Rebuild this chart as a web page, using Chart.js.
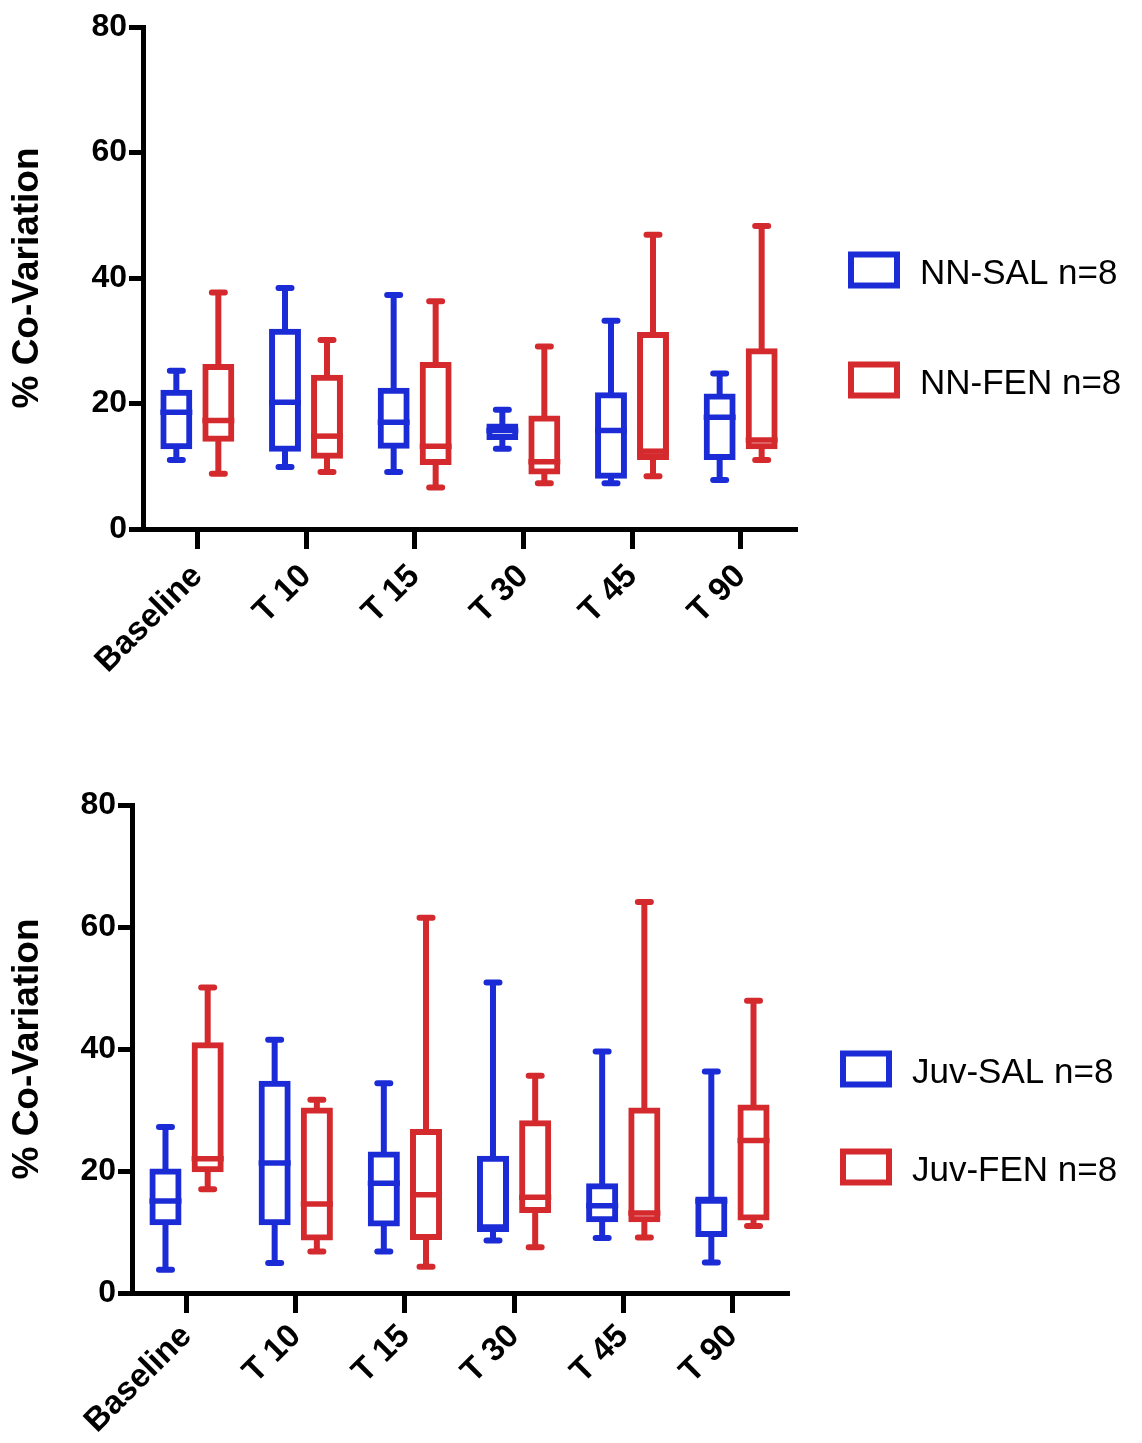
<!DOCTYPE html>
<html>
<head>
<meta charset="utf-8">
<script src="https://cdn.jsdelivr.net/npm/chart.js@4.4.1/dist/chart.umd.min.js"></script>
<style>
  html, body { margin: 0; padding: 0; background: #fff; }
  #wrap { position: relative; width: 1142px; height: 1443px; }
  canvas { position: absolute; left: 0; }
  #topChart { top: 0; }
  #bottomChart { top: 730px; }
</style>
</head>
<body>
<div id="wrap">
  <canvas id="topChart" width="1142" height="730"></canvas>
  <canvas id="bottomChart" width="1142" height="713"></canvas>
</div>
<script>
const categories = ["Baseline", "T 10", "T 15", "T 30", "T 45", "T 90"];
const yTicks = [0, 20, 40, 60, 80];

// top panel: neonatal groups
const nnSalMin = [11.0, 9.9, 9.1, 12.8, 7.3, 7.8];
const nnSalQ1 = [12.7, 12.3, 12.8, 14.2, 8.0, 11.0];
const nnSalMed = [18.6, 20.2, 17.0, 15.7, 15.7, 17.8];
const nnSalQ3 = [22.2, 31.9, 22.5, 16.8, 21.8, 21.6];
const nnSalMax = [25.2, 38.4, 37.3, 19.0, 33.2, 24.8];

const nnFenMin = [8.8, 9.1, 6.6, 7.3, 8.4, 11.0];
const nnFenQ1 = [13.9, 11.2, 10.2, 8.7, 11.0, 12.7];
const nnFenMed = [17.3, 14.8, 13.2, 10.7, 12.4, 14.2];
const nnFenQ3 = [26.3, 24.6, 26.6, 18.1, 31.4, 28.8];
const nnFenMax = [37.7, 30.1, 36.3, 29.1, 46.9, 48.3];

// bottom panel: juvenile groups
const juvSalMin = [3.8, 4.9, 6.8, 8.6, 9.0, 5.0];
const juvSalQ1 = [11.1, 11.1, 10.9, 10.0, 11.6, 9.2];
const juvSalMed = [15.1, 21.3, 18.0, 10.8, 14.3, 15.1];
const juvSalQ3 = [20.4, 34.8, 23.2, 22.5, 18.0, 15.8];
const juvSalMax = [27.2, 41.5, 34.4, 50.9, 39.6, 36.3];

const juvFenMin = [17.0, 6.8, 4.3, 7.5, 9.1, 11.0];
const juvFenQ1 = [19.8, 8.6, 8.7, 13.1, 11.6, 11.9];
const juvFenMed = [22.0, 14.6, 16.1, 15.7, 13.1, 25.0];
const juvFenQ3 = [41.1, 30.4, 26.9, 28.3, 30.4, 30.9];
const juvFenMax = [50.1, 31.7, 61.5, 35.6, 64.1, 47.9];

const BLUE = "#1b2cd6";
const RED = "#d42a2e";
const FONT = "'Liberation Sans', Arial, Helvetica, sans-serif";

Chart.defaults.font.family = FONT;
Chart.defaults.color = "#000";

// whiskers + median lines drawn on top of the floating bars
const whiskers = {
  id: "whiskers",
  afterDatasetsDraw(chart) {
    const ctx = chart.ctx;
    const ys = chart.scales.y;
    chart.data.datasets.forEach((ds, di) => {
      const meta = chart.getDatasetMeta(di);
      const s = ds.stats;
      meta.data.forEach((bar, i) => {
        const x = bar.x;
        const half = bar.width / 2;
        const pMin = ys.getPixelForValue(s.min[i]);
        const pQ1 = ys.getPixelForValue(s.q1[i]);
        const pMed = ys.getPixelForValue(s.med[i]);
        const pQ3 = ys.getPixelForValue(s.q3[i]);
        const pMax = ys.getPixelForValue(s.max[i]);
        ctx.save();
        ctx.strokeStyle = ds.borderColor;
        ctx.lineWidth = 6;
        ctx.lineCap = "round";
        ctx.beginPath();
        ctx.moveTo(x, pQ3); ctx.lineTo(x, pMax);
        ctx.moveTo(x - 6.5, pMax); ctx.lineTo(x + 6.5, pMax);
        ctx.moveTo(x, pQ1); ctx.lineTo(x, pMin);
        ctx.moveTo(x - 6.5, pMin); ctx.lineTo(x + 6.5, pMin);
        ctx.stroke();
        ctx.lineCap = "butt";
        ctx.lineWidth = 5.5;
        ctx.beginPath();
        ctx.moveTo(x - half, pMed); ctx.lineTo(x + half, pMed);
        ctx.stroke();
        ctx.restore();
      });
    });
  }
};

// legend on the right with open boxes
const boxLegend = {
  id: "boxLegend",
  afterDraw(chart, args, opts) {
    const ctx = chart.ctx;
    const x0 = chart.chartArea.right + opts.offsetX;
    chart.data.datasets.forEach((ds, i) => {
      const cy = chart.chartArea.top + opts.rows[i];
      ctx.save();
      ctx.strokeStyle = ds.borderColor;
      ctx.lineWidth = 6;
      ctx.strokeRect(x0 + 3, cy - 15.5, 46, 31);
      ctx.fillStyle = "#000";
      ctx.font = "35px " + FONT;
      ctx.textBaseline = "middle";
      ctx.fillText(ds.label, x0 + 72, cy + 4);
      ctx.restore();
    });
  }
};

function makeDataset(label, color, mn, q1, med, q3, mx) {
  return {
    label: label,
    data: q1.map((v, i) => [v, q3[i]]),
    stats: { min: mn, q1: q1, med: med, q3: q3, max: mx },
    borderColor: color,
    backgroundColor: "rgba(255,255,255,0)",
    borderWidth: 6,
    borderSkipped: false,
    categoryPercentage: 0.773,
    barPercentage: 0.76
  };
}

function makeChart(id, datasets, yWidth, xHeight, pad, rows, labelPad) {
  return new Chart(document.getElementById(id), {
    type: "bar",
    data: { labels: categories, datasets: datasets },
    options: {
      responsive: false,
      animation: false,
      devicePixelRatio: 1,
      layout: { padding: pad },
      plugins: {
        legend: { display: false },
        tooltip: { enabled: false },
        boxLegend: { offsetX: 53, rows: rows }
      },
      scales: {
        x: {
          offset: true,
          grid: { drawOnChartArea: false, offset: false, tickLength: 20, color: "#000", lineWidth: 5 },
          border: { color: "#000", width: 5 },
          ticks: {
            color: "#000",
            font: { size: 33, weight: "bold" },
            minRotation: 45,
            maxRotation: 45,
            padding: labelPad
          },
          afterFit(scale) { scale.height = xHeight; }
        },
        y: {
          min: 0,
          max: 80,
          afterBuildTicks(scale) { scale.ticks = yTicks.map(v => ({ value: v })); },
          grid: { drawOnChartArea: false, tickLength: 14, color: "#000", lineWidth: 5 },
          border: { color: "#000", width: 5 },
          ticks: { color: "#000", font: { size: 32, weight: "bold" }, padding: 2 },
          title: {
            display: true,
            text: "% Co-Variation",
            color: "#000",
            font: { size: 37, weight: "bold" },
            padding: { top: 6, bottom: 0 }
          },
          afterFit(scale) { scale.width = yWidth; }
        }
      }
    },
    plugins: [whiskers, boxLegend]
  });
}

makeChart("topChart", [
  makeDataset("NN-SAL n=8", BLUE, nnSalMin, nnSalQ1, nnSalMed, nnSalQ3, nnSalMax),
  makeDataset("NN-FEN n=8", RED, nnFenMin, nnFenQ1, nnFenMed, nnFenQ3, nnFenMax)
], 143, 201, { left: 0, top: 27, right: 347, bottom: 0 }, [243, 353], 8);

makeChart("bottomChart", [
  makeDataset("Juv-SAL n=8", BLUE, juvSalMin, juvSalQ1, juvSalMed, juvSalQ3, juvSalMax),
  makeDataset("Juv-FEN n=8", RED, juvFenMin, juvFenQ1, juvFenMed, juvFenQ3, juvFenMax)
], 132, 150, { left: 0, top: 75, right: 355, bottom: 0 }, [264, 362], 4);
</script>
</body>
</html>
